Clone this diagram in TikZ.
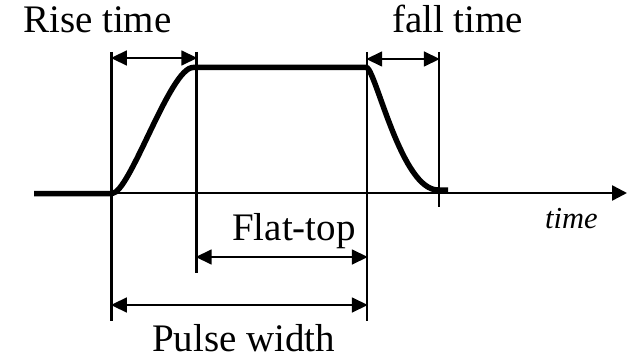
\documentclass[tikz,border=0pt]{standalone}
\usepackage{fontspec}
\setmainfont{Liberation Serif}
\usetikzlibrary{arrows.meta}
\tikzset{
  pulse/.style={line width=5.5pt, line join=round},
  guide/.style={line width=2.5pt},
  axisline/.style={line width=2.5pt, -{Triangle[length=15pt,width=15pt]}},
  dim/.style={line width=1.6pt, {Triangle[length=16pt,width=15pt]}-{Triangle[length=16pt,width=15pt]}, shorten <=-0.8pt, shorten >=-0.8pt},
  lbl/.style={inner sep=0pt, anchor=base west, font=\fontsize{39}{42}\selectfont},
  tlbl/.style={inner sep=0pt, anchor=base west, font=\fontsize{30.5}{33}\selectfont\itshape}
}
\begin{document}
\begin{tikzpicture}[x=1pt,y=-1pt]
\useasboundingbox[fill=white] (0,0) rectangle (631,358);
% guide line ends
\coordinate (v1t) at (111.7,52);  \coordinate (v1b) at (111.7,321);
\coordinate (v2t) at (196.5,52);  \coordinate (v2b) at (196.5,273);
\coordinate (v3t) at (367,52);    \coordinate (v3b) at (367,321);
\coordinate (v4t) at (439,52);    \coordinate (v4b) at (439,207);
\coordinate (ax0) at (111.7,193); \coordinate (ax1) at (627,193);
% dimension arrow ends
\coordinate (r1) at (111.7,58);  \coordinate (r2) at (196.5,58);
\coordinate (f1) at (367,59);    \coordinate (f2) at (439,59);
\coordinate (t1) at (196.5,257); \coordinate (t2) at (367,257);
\coordinate (p1) at (111.7,305); \coordinate (p2) at (367,305);
% guides
\draw[guide] (v1t) -- (v1b);
\draw[guide] (v2t) -- (v2b);
\draw[guide] (v3t) -- (v3b);
\draw[guide] (v4t) -- (v4b);
% axis
\draw[axisline] (ax0) -- (ax1);
% pulse
\coordinate (s0) at (34,193.5);
\coordinate (s1) at (112,193.5);
\coordinate (s2) at (193,67.5);
\coordinate (s3) at (367,67.5);
\coordinate (s4) at (438,190);
\coordinate (s5) at (448,190);
\draw[pulse] (s0) -- (s1) .. controls (130,193) and (170,67.5) .. (s2) -- (s3)
  .. controls (377,75) and (402,190) .. (s4) -- (s5);
% dimension arrows
\draw[dim] (r1) -- (r2);
\draw[dim] (f1) -- (f2);
\draw[dim] (t1) -- (t2);
\draw[dim] (p1) -- (p2);
% labels
\node[lbl] (rise) at (23,33) {Rise time};
\node[lbl] (fall) at (392,33) {fall time};
\node[lbl] (flat) at (232,240) {Flat-top};
\node[lbl] (pw) at (152,351) {Pulse width};
\node[tlbl] (tm) at (545,228) {time};
\end{tikzpicture}
\end{document}
